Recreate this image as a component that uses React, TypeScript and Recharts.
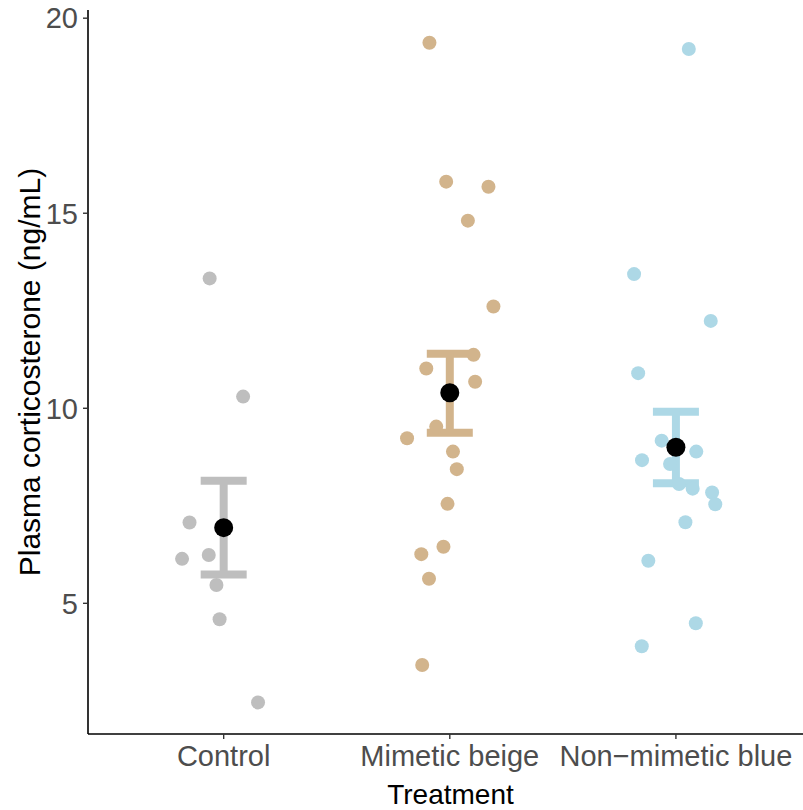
import React from "react";
import { ComposedChart, Scatter, XAxis, YAxis, ErrorBar } from "recharts";

// Category labels and positions
const categories = ["Control", "Mimetic beige", "Non\u2212mimetic blue"];
const categoryPositions = [1, 2, 3];
const yTicks = [5, 10, 15, 20];

// Individual observations (jittered x, value)
const controlX = [0.938, 1.086, 0.849, 0.816, 0.934, 0.968, 0.982, 1.152];
const controlY = [13.33, 10.3, 7.07, 6.14, 6.24, 5.47, 4.59, 2.46];

const beigeX = [1.91, 1.984, 2.171, 2.08, 2.193, 2.105, 1.896, 2.112, 1.94, 1.811, 2.014, 2.031, 1.99, 1.972, 1.874, 1.908, 1.878];
const beigeY = [19.37, 15.81, 15.68, 14.81, 12.61, 11.37, 11.02, 10.68, 9.53, 9.23, 8.89, 8.44, 7.55, 6.45, 6.26, 5.63, 3.42];

const blueX = [3.057, 2.815, 3.154, 2.833, 2.937, 3.09, 2.85, 2.974, 3.014, 3.074, 3.16, 3.174, 3.042, 2.878, 3.088, 2.849];
const blueY = [19.21, 13.44, 12.24, 10.9, 9.17, 8.89, 8.67, 8.57, 8.06, 7.94, 7.84, 7.54, 7.08, 6.09, 4.49, 3.9];

// Group summaries
const meanValues = [6.94, 10.4, 9.0];
const lowerValues = [5.74, 9.37, 8.08];
const upperValues = [8.14, 11.4, 9.91];

const groupColors = ["#BEBEBE", "#D2B48C", "#ADD8E6"];

const toPoints = (xs: number[], ys: number[]) => xs.map((x, i) => ({ x, y: ys[i] }));
const controlPts = toPoints(controlX, controlY);
const beigePts = toPoints(beigeX, beigeY);
const bluePts = toPoints(blueX, blueY);
const jitterSets = [controlPts, beigePts, bluePts];

const meanSets = categoryPositions.map((x, i) => [
  { x, y: meanValues[i], err: [meanValues[i] - lowerValues[i], upperValues[i] - meanValues[i]] },
]);

const FONT = "'Liberation Sans', Arial, sans-serif";

const dot = (r: number, fill: string) => (props: any) =>
  <circle cx={props.cx} cy={props.cy} r={r} fill={fill} />;

const YTitle = (props: any) => {
  const vb = props.viewBox;
  const cx = vb.x + 40;
  const cy = vb.y + vb.height / 2;
  return (
    <text x={cx} y={cy} transform={`rotate(-90, ${cx}, ${cy})`} textAnchor="middle"
      fontSize={30} fontFamily={FONT} fill="#000">
      Plasma corticosterone (ng/mL)
    </text>
  );
};

const XTitle = (props: any) => {
  const vb = props.viewBox;
  const cx = vb.x + vb.width / 2 + 5;
  return (
    <text x={cx} y={vb.y + 70} textAnchor="middle" fontSize={28} fontFamily={FONT} fill="#000">
      Treatment
    </text>
  );
};

export default function App() {
  return (
    <div style={{ position: "absolute", left: 0, top: 0, background: "#fff" }}>
      <ComposedChart width={803} height={810} margin={{ top: 10, right: 0, bottom: 0, left: 0 }}>
        <XAxis
          type="number"
          dataKey="x"
          domain={[0.4, 3.562]}
          ticks={categoryPositions}
          interval={0}
          tickFormatter={(v: number) => categories[categoryPositions.indexOf(v)] ?? ""}
          height={76}
          axisLine={{ stroke: "#000", strokeWidth: 1.6 }}
          tickLine={{ stroke: "#333", strokeWidth: 1.4 }}
          tickSize={5}
          tickMargin={6}
          tick={{ fill: "#4D4D4D", fontSize: 29, fontFamily: FONT }}
          allowDataOverflow
          label={<XTitle />}
        />
        <YAxis
          type="number"
          dataKey="y"
          domain={[1.65, 20.21]}
          ticks={yTicks}
          interval={0}
          width={88}
          axisLine={{ stroke: "#000", strokeWidth: 1.6 }}
          tickLine={{ stroke: "#333", strokeWidth: 1.4 }}
          tickSize={5}
          tickMargin={5}
          tick={{ fill: "#4D4D4D", fontSize: 29, fontFamily: FONT }}
          allowDataOverflow
          label={<YTitle />}
        />
        {jitterSets.map((pts, i) => (
          <Scatter key={`j${i}`} data={pts} dataKey="y" isAnimationActive={false}
            shape={dot(7, groupColors[i])} />
        ))}
        {meanSets.map((pts, i) => (
          <Scatter key={`m${i}`} data={pts} dataKey="y" isAnimationActive={false}
            shape={dot(9.5, "#000")}>
            <ErrorBar dataKey="err" direction="y" width={23} strokeWidth={8}
              stroke={groupColors[i]} isAnimationActive={false} />
          </Scatter>
        ))}
      </ComposedChart>
    </div>
  );
}
